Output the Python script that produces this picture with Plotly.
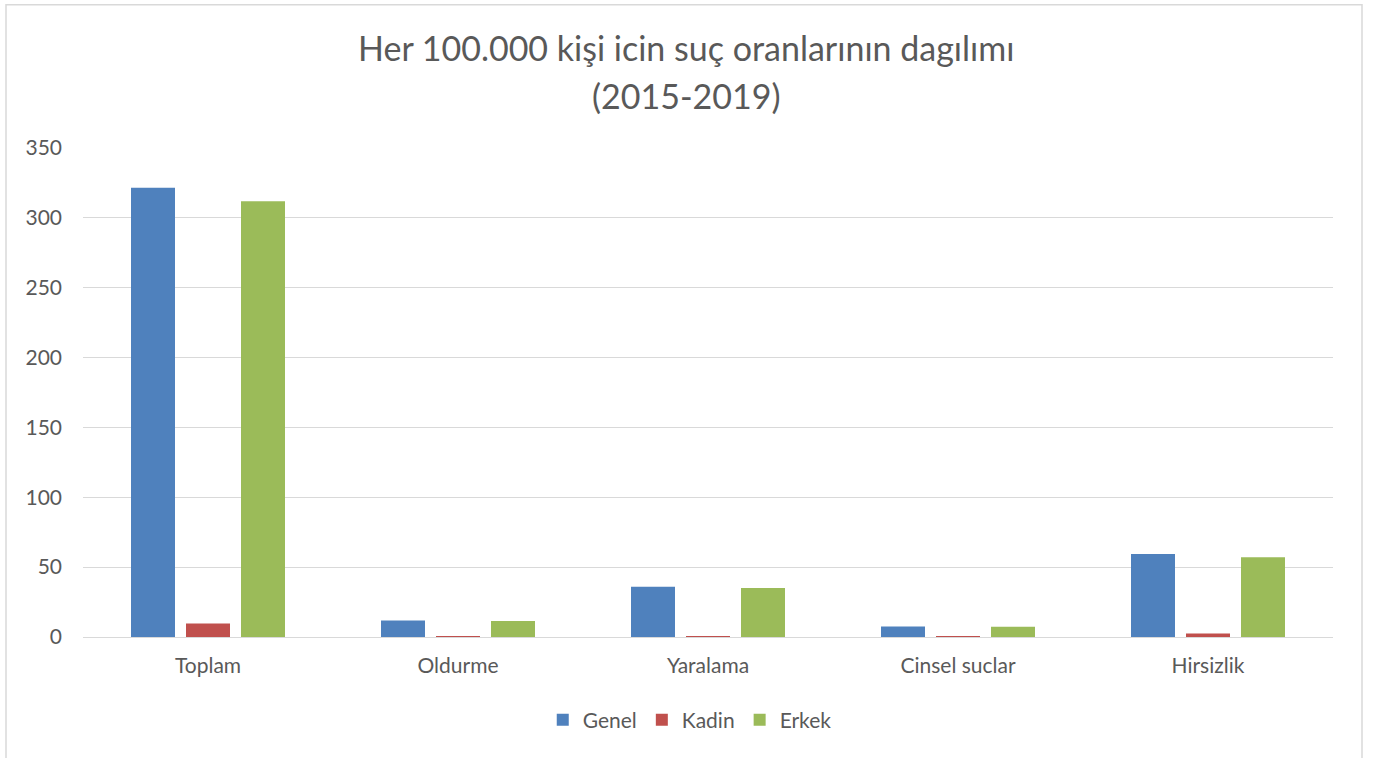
import plotly.graph_objects as go

categories = ["Toplam", "Oldurme", "Yaralama", "Cinsel suclar", "Hirsizlik"]
genel = [321.5, 11.8, 36.0, 7.5, 59.4]
kadin = [9.6, 0.1, 0.6, 0.05, 2.5]
erkek = [311.8, 11.5, 35.1, 7.3, 57.0]
y_ticks = [0, 50, 100, 150, 200, 250, 300, 350]
title_lines = ["Her 100.000 kişi icin suç oranlarının dagılımı", "(2015-2019)"]

FONT = "Lato"
GREY = "#595959"

fig = go.Figure()
for name, vals, col in [("Genel", genel, "#4f81bd"), ("Kadin", kadin, "#c0504d"), ("Erkek", erkek, "#9bbb59")]:
    fig.add_trace(go.Bar(name=name, x=categories, y=vals, marker=dict(color=col, line=dict(width=0))))

cx = (686 - 83) / 1250
annotations = [
    dict(text=title_lines[0], xref="paper", yref="paper", x=cx, y=(637.5 - 47) / 490,
         xanchor="center", yanchor="middle", showarrow=False, font=dict(family=FONT, size=34, color=GREY)),
    dict(text=title_lines[1], xref="paper", yref="paper", x=cx, y=(637.5 - 95) / 490,
         xanchor="center", yanchor="middle", showarrow=False, font=dict(family=FONT, size=34, color=GREY)),
]

fig.update_layout(
    width=1373, height=758,
    margin=dict(l=83, r=40, t=148, b=121, autoexpand=False),
    paper_bgcolor="white", plot_bgcolor="white",
    barmode="group", bargap=0.34, bargroupgap=0.2,
    font=dict(family=FONT, color=GREY, size=21),
    annotations=annotations,
    legend=dict(orientation="h", x=cx + 0.003, xanchor="center", y=-0.170, yanchor="middle",
                font=dict(family=FONT, size=21, color=GREY), itemwidth=30, traceorder="normal"),
    xaxis=dict(showline=True, linecolor="#d9d9d9", ticks="", tickfont=dict(size=21, color=GREY),
               ticklabelstandoff=10, tickangle=0),
    yaxis=dict(range=[0, 350], tickvals=y_ticks, showgrid=True, gridcolor="#d9d9d9", gridwidth=1,
               zeroline=False, showline=False, ticks="", tickfont=dict(size=21, color=GREY), ticklabelstandoff=20),
    shapes=[dict(type="rect", xref="paper", yref="paper",
                 x0=(6 - 83) / 1250, x1=(1362 - 83) / 1250, y0=-0.30, y1=(637.5 - 4) / 490,
                 line=dict(color="#d9d9d9", width=1.5), fillcolor="rgba(0,0,0,0)", layer="below")],
)

fig.write_html("out.html", config={"displayModeBar": False},
               post_script="document.body.style.margin='0';document.body.style.padding='0';document.body.style.overflow='hidden';")
